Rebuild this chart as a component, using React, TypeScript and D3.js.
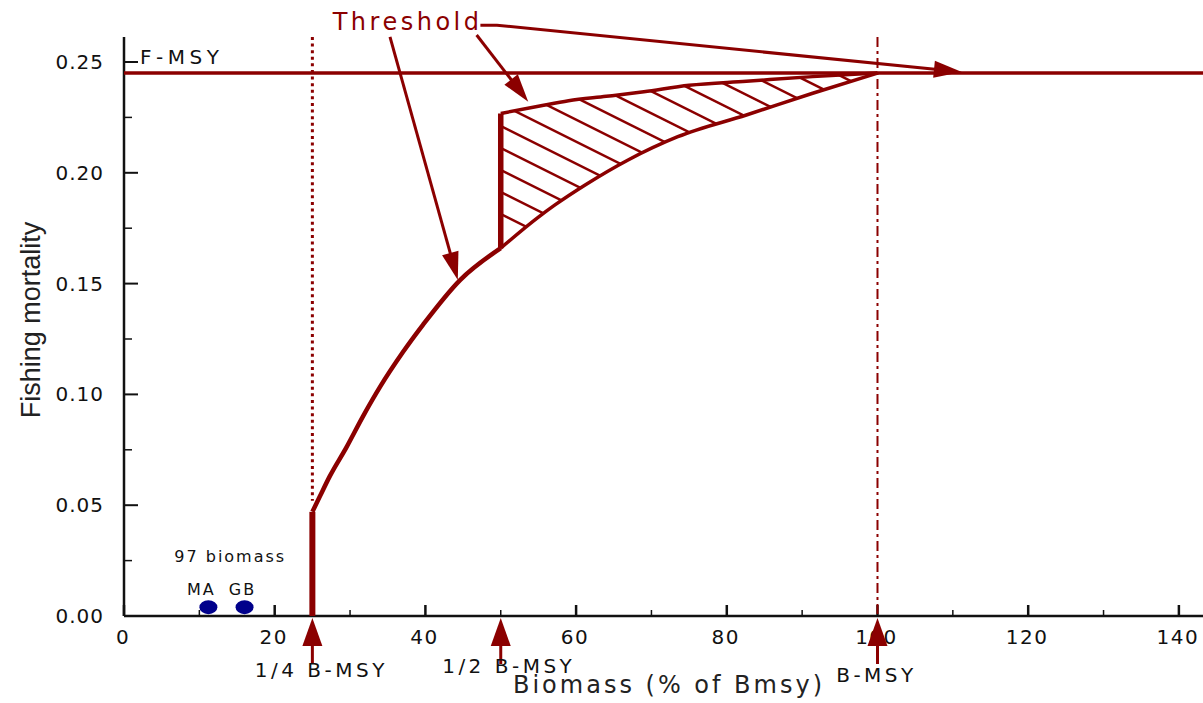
import React from 'react';
import * as d3 from 'd3';

const W = 1203;
const H = 703;
const RED = '#8b0000';
const BLUE = '#00008b';
const INK = '#111';
const FONT = '"DejaVu Sans", Verdana, sans-serif';

// axis ticks
const xTicks = [0, 20, 40, 60, 80, 100, 120, 140];
const xMinor = [10, 30, 50, 70, 90, 110, 130];
const yTicks = [0, 0.05, 0.1, 0.15, 0.2, 0.25];
const yMinor = [0.025, 0.075, 0.125, 0.175, 0.225];

// reference points
const fMsy = 0.245;
const refBiomass = [25, 50, 100];
const refLabels = ['1/4 B-MSY', '1/2 B-MSY', 'B-MSY'];

// threshold curve: ramp from 1/4 Bmsy to 1/2 Bmsy
const rampB = [25, 26, 27.3, 29.5, 31.7, 34, 37, 39.7, 44.6, 50];
const rampF = [0.047, 0.054, 0.063, 0.076, 0.09, 0.1035, 0.119, 0.1315, 0.1516, 0.166];

// lower / upper edges of the hatched zone
const lowerB = [50, 55, 57.2, 61.2, 66.9, 73.5, 82.6, 91.4, 100];
const lowerF = [0.166, 0.18, 0.1855, 0.1945, 0.2058, 0.2163, 0.2261, 0.2359, 0.245];
const upperB = [50, 55, 59, 64, 69, 75, 82.6, 91.4, 100];
const upperF = [0.2268, 0.23, 0.2325, 0.2345, 0.2366, 0.2395, 0.2413, 0.2434, 0.245];

// 97 biomass points
const stockNames = ['MA', 'GB'];
const stockB = [11.2, 16.0];
const stockF = [0.004, 0.004];

// "Threshold" callout arrows (biomass, F)
const arrowB = [
  [47.3, 49.5, 111.2],
  [35.3, 44.3],
  [46.8, 53.65],
];
const arrowF = [
  [0.2666, 0.2666, 0.2455],
  [0.2613, 0.1516],
  [0.2622, 0.2321],
];

const x = d3.scaleLinear().domain([0, 143.2]).range([124, 1203]);
const y = d3.scaleLinear().domain([0, 0.25]).range([616, 62]);
const yTop = 0.2613;

const zip = (bs: number[], fs: number[]) => bs.map((b, i) => [b, fs[i]] as [number, number]);
const line = d3
  .line<[number, number]>()
  .x((d) => x(d[0]))
  .y((d) => y(d[1]))
  .curve(d3.curveMonotoneX);
const straight = d3
  .line<[number, number]>()
  .x((d) => x(d[0]))
  .y((d) => y(d[1]));

function Arrow({ pts }: { pts: [number, number][] }) {
  const px = pts.map((p) => [x(p[0]), y(p[1])]);
  const tip = px[px.length - 1];
  const prev = px[px.length - 2];
  const dx = tip[0] - prev[0];
  const dy = tip[1] - prev[1];
  const len = Math.hypot(dx, dy);
  const ux = dx / len;
  const uy = dy / len;
  const L = 28;
  const w = 8.5;
  const bx = tip[0] - ux * L;
  const by = tip[1] - uy * L;
  const head = `M${tip[0]},${tip[1]}L${bx - uy * w},${by + ux * w}L${bx + uy * w},${by - ux * w}Z`;
  const body = [...px.slice(0, -1), [tip[0] - ux * L * 0.7, tip[1] - uy * L * 0.7]];
  return (
    <g>
      <path d={d3.line()(body as [number, number][]) || ''} fill="none" stroke={RED} strokeWidth={3} />
      <path d={head} fill={RED} />
    </g>
  );
}

export default function App() {
  const lower = zip(lowerB, lowerF);
  const upper = zip(upperB, upperF);
  // closed outline of the hatched zone
  const zonePath =
    (line(upper) || '') + 'L' + (line([...lower].reverse()) || '').slice(1) + 'Z';

  // hatch lines, slope 0.5 down-right in pixel space
  const x50 = x(50);
  const hatch: number[] = [];
  for (let c = -116; c <= 228; c += 22) hatch.push(c);

  const y0 = y(0);
  const labelDy = [61, 57, 66];
  const labelDx = [9, 8, -1];

  return (
    <svg
      width={W}
      height={H}
      style={{ position: 'fixed', left: 0, top: 0, background: '#fff' }}
      fontFamily={FONT}
    >
      <defs>
        <clipPath id="zone">
          <path d={zonePath} />
        </clipPath>
      </defs>

      {/* axes */}
      <line x1={x(0)} x2={W} y1={y0} y2={y0} stroke={INK} strokeWidth={2.5} />
      <line x1={x(0)} x2={x(0)} y1={y0} y2={y(yTop)} stroke={INK} strokeWidth={2.5} />
      {yTicks.map((t) => (
        <g key={`yt${t}`}>
          <line x1={x(0)} x2={x(0) + 14} y1={y(t)} y2={y(t)} stroke={INK} strokeWidth={2} />
          <text x={104} y={y(t) + 7} textAnchor="end" fontSize={20} letterSpacing={1} fill={INK}>
            {t.toFixed(2)}
          </text>
        </g>
      ))}
      {yMinor.map((t) => (
        <line key={`ym${t}`} x1={x(0)} x2={x(0) + 8} y1={y(t)} y2={y(t)} stroke={INK} strokeWidth={1.5} />
      ))}
      {xTicks.map((t) => (
        <g key={`xt${t}`}>
          <line x1={x(t)} x2={x(t)} y1={y0} y2={y0 - 11} stroke={INK} strokeWidth={2.5} />
          <text x={x(t) - 1} y={644} textAnchor="middle" fontSize={20} letterSpacing={1.5} fill={INK}>
            {t}
          </text>
        </g>
      ))}
      {xMinor.map((t) => (
        <line key={`xm${t}`} x1={x(t)} x2={x(t)} y1={y0} y2={y0 - 6} stroke={INK} strokeWidth={1.5} />
      ))}

      {/* axis titles */}
      <text
        transform="translate(40,320) rotate(-90)"
        textAnchor="middle"
        fontFamily='"Liberation Sans", Arial, sans-serif'
        fontSize={27}
        fill="#222"
      >
        Fishing mortality
      </text>
      <text x={669} y={693} textAnchor="middle" fontSize={24} letterSpacing={3} fill="#222">
        Biomass (% of Bmsy)
      </text>

      {/* F-MSY */}
      <line x1={x(0)} x2={W} y1={y(fMsy)} y2={y(fMsy)} stroke={RED} strokeWidth={3.5} />
      <text x={140} y={64} fontSize={20} letterSpacing={4.5} fill={INK}>
        F-MSY
      </text>

      {/* reference verticals */}
      <line
        x1={x(25)}
        x2={x(25)}
        y1={y(yTop)}
        y2={y(0.052)}
        stroke={RED}
        strokeWidth={3}
        strokeDasharray="3 3.6"
      />
      <line
        x1={x(100)}
        x2={x(100)}
        y1={y(yTop)}
        y2={y0}
        stroke={RED}
        strokeWidth={2}
        strokeDasharray="10 4 3 4"
      />

      {/* hatched zone */}
      <g clipPath="url(#zone)">
        {hatch.map((c) => (
          <line
            key={`h${c}`}
            x1={x50 - 10}
            y1={c - 5}
            x2={x(101)}
            y2={c + 0.5 * (x(101) - x50)}
            stroke={RED}
            strokeWidth={2.5}
          />
        ))}
      </g>
      <path d={line(upper) || ''} fill="none" stroke={RED} strokeWidth={3.5} />
      <path d={line(lower) || ''} fill="none" stroke={RED} strokeWidth={3.5} />
      <path d={straight([[50, lowerF[0]], [50, upperF[0]]]) || ''} stroke={RED} strokeWidth={5.5} />

      {/* threshold ramp */}
      <path d={line(zip(rampB, rampF)) || ''} fill="none" stroke={RED} strokeWidth={4.5} />
      <path d={straight([[25, 0], [25, rampF[0]]]) || ''} stroke={RED} strokeWidth={6} />

      {/* Threshold callout */}
      <text x={x(27.7)} y={y(0.2644)} fontSize={24} letterSpacing={3.5} fill={RED}>
        Threshold
      </text>
      {arrowB.map((bs, i) => (
        <Arrow key={`a${i}`} pts={zip(bs, arrowF[i])} />
      ))}

      {/* 97 biomass */}
      <text x={x(14.1)} y={562} textAnchor="middle" fontSize={16} letterSpacing={2} fill={INK}>
        97 biomass
      </text>
      {stockNames.map((n, i) => (
        <g key={n}>
          <ellipse cx={x(stockB[i])} cy={y(stockF[i])} rx={9} ry={7} fill={BLUE} />
          <text
            x={x(stockB[i]) - (i === 0 ? 7 : 2)}
            y={595}
            textAnchor="middle"
            fontSize={16}
            letterSpacing={2}
            fill={INK}
          >
            {n}
          </text>
        </g>
      ))}

      {/* reference arrows under axis */}
      {refBiomass.map((b, i) => {
        const cx = x(b);
        return (
          <g key={`r${b}`}>
            <line x1={cx} x2={cx} y1={y0 + 20} y2={y0 + 48} stroke={RED} strokeWidth={3} />
            <path d={`M${cx},${y0 + 2}L${cx - 10},${y0 + 30}L${cx + 10},${y0 + 30}Z`} fill={RED} />
            <text
              x={cx + labelDx[i]}
              y={y0 + labelDy[i]}
              textAnchor="middle"
              fontSize={20}
              letterSpacing={3.5}
              fill={INK}
            >
              {refLabels[i]}
            </text>
          </g>
        );
      })}
    </svg>
  );
}
